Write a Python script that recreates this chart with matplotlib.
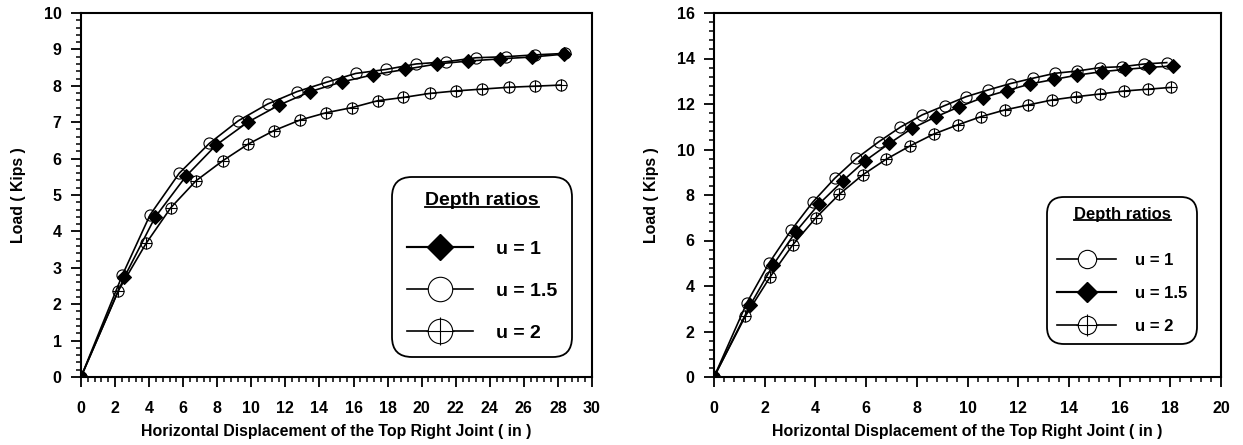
import matplotlib
matplotlib.use("Agg")
import matplotlib.pyplot as plt
from matplotlib.lines import Line2D
from matplotlib.legend_handler import HandlerTuple
from matplotlib.ticker import MultipleLocator

plt.rcParams['font.family'] = ['Liberation Sans', 'DejaVu Sans']
plt.rcParams['font.weight'] = 'bold'

# ---------------- data: left chart ----------------
xl_u1 = [0, 2.54, 4.35, 6.17, 7.93, 9.79, 11.63, 13.45, 15.34, 17.13, 19.02, 20.89, 22.74, 24.6, 26.46, 28.38]
yl_u1 = [0, 2.74, 4.39, 5.52, 6.37, 7.0, 7.47, 7.84, 8.11, 8.30, 8.45, 8.60, 8.68, 8.74, 8.79, 8.87]
xl_u15 = [0, 2.43, 4.05, 5.77, 7.54, 9.24, 10.96, 12.68, 14.43, 16.13, 17.91, 19.67, 21.41, 23.18, 24.94, 26.66, 28.42]
yl_u15 = [0, 2.80, 4.45, 5.60, 6.42, 7.04, 7.50, 7.84, 8.10, 8.34, 8.45, 8.60, 8.66, 8.77, 8.80, 8.85, 8.89]
xl_u2 = [0, 2.19, 3.82, 5.27, 6.75, 8.32, 9.82, 11.33, 12.86, 14.39, 15.9, 17.42, 18.93, 20.46, 22.02, 23.57, 25.13, 26.66, 28.17]
yl_u2 = [0, 2.37, 3.67, 4.65, 5.39, 5.94, 6.40, 6.77, 7.06, 7.26, 7.40, 7.59, 7.68, 7.79, 7.86, 7.91, 7.96, 7.99, 8.02]

# ---------------- data: right chart ----------------
xr_u1 = [0, 1.30, 2.18, 3.05, 3.89, 4.76, 5.62, 6.50, 7.35, 8.21, 9.10, 9.94, 10.82, 11.70, 12.57, 13.45, 14.33, 15.23, 16.11, 16.98, 17.86]
yr_u1 = [0, 3.27, 5.02, 6.46, 7.68, 8.73, 9.61, 10.34, 10.98, 11.52, 11.93, 12.32, 12.62, 12.90, 13.13, 13.35, 13.45, 13.60, 13.64, 13.76, 13.82]
xr_u15 = [0, 1.43, 2.33, 3.23, 4.13, 5.08, 5.97, 6.92, 7.81, 8.76, 9.68, 10.60, 11.55, 12.47, 13.41, 14.33, 15.29, 16.21, 17.16, 18.09]
yr_u15 = [0, 3.16, 4.92, 6.39, 7.59, 8.62, 9.51, 10.27, 10.93, 11.44, 11.88, 12.28, 12.59, 12.88, 13.08, 13.27, 13.42, 13.52, 13.61, 13.67]
xr_u2 = [0, 1.24, 2.22, 3.10, 4.02, 4.94, 5.86, 6.79, 7.72, 8.67, 9.61, 10.52, 11.48, 12.40, 13.35, 14.28, 15.23, 16.17, 17.11, 18.03]
yr_u2 = [0, 2.68, 4.41, 5.80, 7.00, 8.03, 8.88, 9.57, 10.15, 10.68, 11.08, 11.44, 11.74, 11.96, 12.18, 12.32, 12.44, 12.57, 12.65, 12.73]

xlabel = "Horizontal Displacement of the Top Right Joint ( in )"
ylabel = "Load ( Kips )"
legend_title = "Depth ratios"
legend_labels = ['u = 1', 'u = 1.5', 'u = 2']

fig = plt.figure(figsize=(12.43, 4.45), dpi=100)
axL = fig.add_axes([81/1243, 68/445, 511/1243, 364/445])
axR = fig.add_axes([714/1243, 68/445, 507/1243, 364/445])

LW = 1.2
MS = 8
MEW = 0.8


def series_diamond(ax, x, y):
    ax.plot(x, y, color='black', lw=LW, zorder=3)
    ax.plot(x, y, ls='none', marker='D', ms=MS * 0.85, mfc='black', mec='black', mew=MEW, zorder=4)
    h = Line2D([], [], color='black', lw=LW * 1.3, marker='D', ms=MS * 0.78, mfc='black', mec='black')
    return h


def series_circle(ax, x, y):
    ax.plot(x, y, color='black', lw=LW, zorder=3)
    ax.plot(x, y, ls='none', marker='o', ms=MS, mfc='none', mec='black', mew=MEW, zorder=4)
    h = Line2D([], [], color='black', lw=LW, marker='o', ms=MS, mfc='white', mec='black', mew=MEW)
    return h


def series_cross(ax, x, y):
    ax.plot(x, y, color='black', lw=LW, zorder=3)
    ax.plot(x, y, ls='none', marker='o', ms=MS, mfc='none', mec='black', mew=MEW, zorder=4)
    ax.plot(x, y, ls='none', marker='+', ms=MS * 1.15, mec='black', mew=MEW, zorder=4)
    h1 = Line2D([], [], color='black', lw=LW, marker='o', ms=MS, mfc='white', mec='black', mew=MEW)
    h2 = Line2D([], [], ls='none', marker='+', ms=MS * 1.15, mec='black', mew=MEW)
    return (h1, h2)


def style_axes(ax, xmax, ymax, xmaj, xmin, ymaj, ymin):
    ax.set_xlim(0, xmax)
    ax.set_ylim(0, ymax)
    ax.xaxis.set_major_locator(MultipleLocator(xmaj))
    ax.xaxis.set_minor_locator(MultipleLocator(xmin))
    ax.yaxis.set_major_locator(MultipleLocator(ymaj))
    ax.yaxis.set_minor_locator(MultipleLocator(ymin))
    for s in ax.spines.values():
        s.set_linewidth(1.5)
    ax.tick_params(which='major', direction='out', length=7, width=1.3, labelsize=11.5, top=False, right=False)
    ax.tick_params(which='minor', direction='out', length=3.5, width=1.1, top=False, right=False)
    ax.tick_params(axis='x', which='major', pad=10)
    ax.tick_params(axis='y', which='major', pad=7)
    for lab in ax.get_xticklabels() + ax.get_yticklabels():
        lab.set_fontweight('bold')
    ax.set_xlabel(xlabel, fontsize=11.4, fontweight='bold')
    ax.set_ylabel(ylabel, fontsize=11.4, fontweight='bold')
    ax.xaxis.set_label_coords(0.5, -0.128)
    ax.yaxis.set_label_coords(-0.108, 0.5)


# Left chart
hL1 = series_diamond(axL, xl_u1, yl_u1)
hL15 = series_circle(axL, xl_u15, yl_u15)
hL2 = series_cross(axL, xl_u2, yl_u2)
style_axes(axL, 30, 10, 2, 0.4, 1, 0.2)

# Right chart
hR1 = series_circle(axR, xr_u1, yr_u1)
hR15 = series_diamond(axR, xr_u15, yr_u15)
hR2 = series_cross(axR, xr_u2, yr_u2)
style_axes(axR, 20, 16, 2, 0.4, 2, 0.4)


def make_legend(ax, handles, fs, anchor, mscale, hlen, tpad_h, spacing, bpad, sep):
    leg = ax.legend(handles, legend_labels, loc='upper left', bbox_to_anchor=anchor, borderaxespad=0,
                    title=legend_title, fontsize=fs, title_fontsize=fs, markerscale=mscale,
                    handlelength=hlen, handletextpad=tpad_h, labelspacing=spacing, borderpad=bpad,
                    frameon=True, fancybox=True, framealpha=1, edgecolor='black',
                    handler_map={tuple: HandlerTuple(ndivide=1)}, prop={'weight': 'bold', 'size': fs})
    leg.get_title().set_fontweight('bold')
    fr = leg.get_frame()
    fr.set_linewidth(1.3)
    fr.set_boxstyle('round,pad=0,rounding_size=1.0')
    leg._legend_box.sep = sep
    return leg


legL = make_legend(axL, [hL1, hL15, hL2], 14, (0.609, 0.549), 2.2, 3.4, 1.2, 1.25, 0.75, 23)
legR = make_legend(axR, [hR1, hR15, hR2], 12, (0.657, 0.4945), 1.65, 3.5, 1.14, 1.07, 0.62, 22)

# underline the legend titles
fig.canvas.draw()
r = fig.canvas.get_renderer()
for leg in (legL, legR):
    bb = leg.get_title().get_window_extent(r)
    inv = fig.transFigure.inverted()
    (x0, y0), (x1, y1) = inv.transform([(bb.x0, bb.y0 + 2), (bb.x1, bb.y0 + 2)])
    fig.add_artist(Line2D([x0, x1], [y0, y1], color='black', lw=1.3, transform=fig.transFigure))

fig.savefig('out.png', dpi=100)
